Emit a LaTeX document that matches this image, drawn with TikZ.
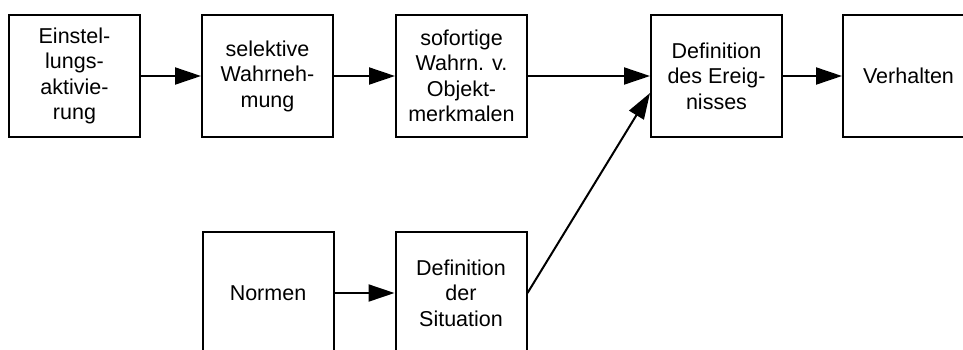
\documentclass[tikz,border=0pt]{standalone}
\usepackage{fontspec}
\setmainfont{Liberation Sans}
\usetikzlibrary{arrows.meta,calc}
\begin{document}
\begin{tikzpicture}[x=1pt,y=-1pt,
  box/.style={draw,line width=2pt,minimum width=131pt,minimum height=122pt,
    inner sep=0pt,align=center,font=\fontsize{21.5}{25.5}\selectfont},
  flow/.style={line width=2pt,-{Triangle[length=26pt,width=17pt]}}]
  \useasboundingbox (0,0) rectangle (963,349);
  \clip (0,0) rectangle (963,349);
  % top row
  \node[box] (einst) at (74.5,76) {Einstel-\\lungs-\\aktivie-\\rung};
  \node[box] (selek) at (267.5,76) {selektive\\Wahrneh-\\mung};
  \node[box] (sofort) at (461.5,76) {sofortige\\Wahrn. v.\\Objekt-\\merkmalen};
  \node[box] (ereig) at (716.5,76) {Definition\\des Ereig-\\nisses};
  \node[box] (verh) at (908.5,76) {Verhalten};
  % bottom row
  \node[box] (normen) at (268,293) {Normen};
  \node[box] (sit) at (461,293) {Definition\\der\\Situation};
  \coordinate (ein) at ($(ereig.west)+(0,17)$);
  % connectors
  \draw[flow] (einst.east) -- (selek.west);
  \draw[flow] (selek.east) -- (sofort.west);
  \draw[flow] (sofort.east) -- (ereig.west);
  \draw[flow] (ereig.east) -- (verh.west);
  \draw[flow] (normen.east) -- (sit.west);
  \draw[flow] (sit.east) -- (ein);
\end{tikzpicture}
\end{document}
